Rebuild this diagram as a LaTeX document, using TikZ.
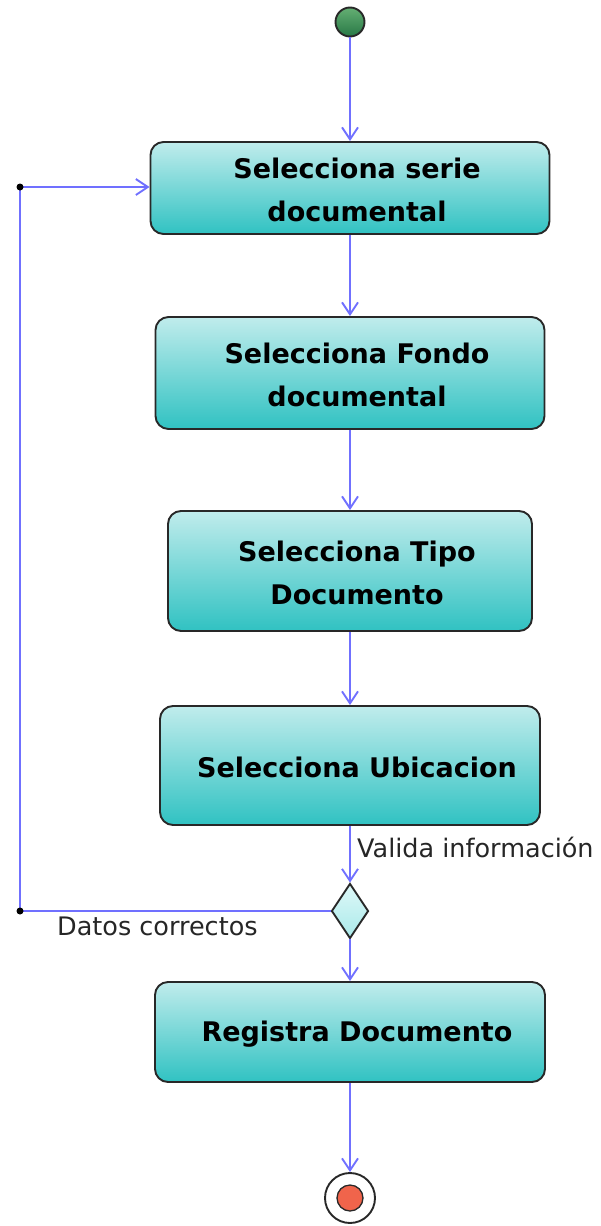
\documentclass[tikz,border=0pt]{standalone}
\usepackage{fontspec}
\setmainfont{DejaVu Sans}
\usetikzlibrary{shapes.geometric,arrows.meta,shadings}
\definecolor{flowc}{RGB}{112,112,255}
\definecolor{boxtop}{RGB}{192,236,236}
\definecolor{boxbot}{RGB}{48,194,194}
\definecolor{edgec}{RGB}{40,40,40}
\tikzset{
  act/.style={draw=edgec, line width=1.9pt, rounded corners=13pt, top color=boxtop, bottom color=boxbot, inner sep=0pt},
  acttext/.style={font=\fontsize{27}{43}\selectfont\bfseries, align=center, inner sep=0pt, text=black},
  flow/.style={draw=flowc, line width=1.9pt, -{Straight Barb[length=12pt,width=16pt,line width=1.9pt]}},
  lbl/.style={font=\fontsize{25.5}{30}\selectfont, text=black!85, inner sep=0pt},
  dot/.style={fill=black}
}
\begin{document}
\begin{tikzpicture}[x=1pt,y=-1pt]
\useasboundingbox (0,0) rectangle (600,1226);
% start
\node[circle, draw=edgec, line width=1.9pt, top color={rgb,255:red,100;green,175;blue,115}, bottom color={rgb,255:red,40;green,120;blue,70}, minimum size=29pt, inner sep=0pt] (start) at (350,22) {};
% activities
\node[act, minimum width=399pt, minimum height=92pt] (b1) at (350,188) {};
\node[acttext] (t1) at (357,190) {Selecciona serie\\documental};
\node[act, minimum width=389pt, minimum height=112pt] (b2) at (350,373) {};
\node[acttext] (t2) at (357,375) {Selecciona Fondo\\documental};
\node[act, minimum width=364pt, minimum height=120pt] (b3) at (350,571) {};
\node[acttext] (t3) at (357,573) {Selecciona Tipo\\Documento};
\node[act, minimum width=380pt, minimum height=119pt] (b4) at (350,765.5) {};
\node[acttext] (t4) at (357,767) {Selecciona Ubicacion};
\node[diamond, draw=edgec, line width=1.9pt, top color={rgb,255:red,222;green,248;blue,248}, bottom color={rgb,255:red,170;green,234;blue,234}, minimum width=37pt, minimum height=55pt, inner sep=0pt] (dia) at (350,911) {};
\node[act, minimum width=390pt, minimum height=100pt] (b5) at (350,1032) {};
\node[acttext] (t5) at (357,1034) {Registra Documento};
% end
\node[circle, draw=edgec, line width=1.9pt, fill=white, minimum size=50pt, inner sep=0pt] (end) at (350,1198) {};
\node[circle, draw=edgec, line width=1.3pt, fill={rgb,255:red,240;green,100;blue,75}, minimum size=26pt, inner sep=0pt] (endin) at (end.center) {};
% flows
\draw[flow] (start) -- (b1);
\draw[flow] (b1) -- (b2);
\draw[flow] (b2) -- (b3);
\draw[flow] (b3) -- (b4);
\draw[flow] (b4) -- (dia);
\draw[flow] (dia) -- (b5);
\draw[flow] (b5) -- (end);
\coordinate (c1) at (20,187);
\coordinate (c2) at (20,911);
\draw[flow] (dia.west) -- (c2) -- (c1) -- (b1.west |- c1);
\fill[dot] (c1) circle[radius=3.5pt];
\fill[dot] (c2) circle[radius=3.5pt];
% labels
\node[lbl, anchor=base west] (l1) at (357,857) {Valida información};
\node[lbl, anchor=base west] (l2) at (57,935) {Datos correctos};
\end{tikzpicture}
\end{document}
